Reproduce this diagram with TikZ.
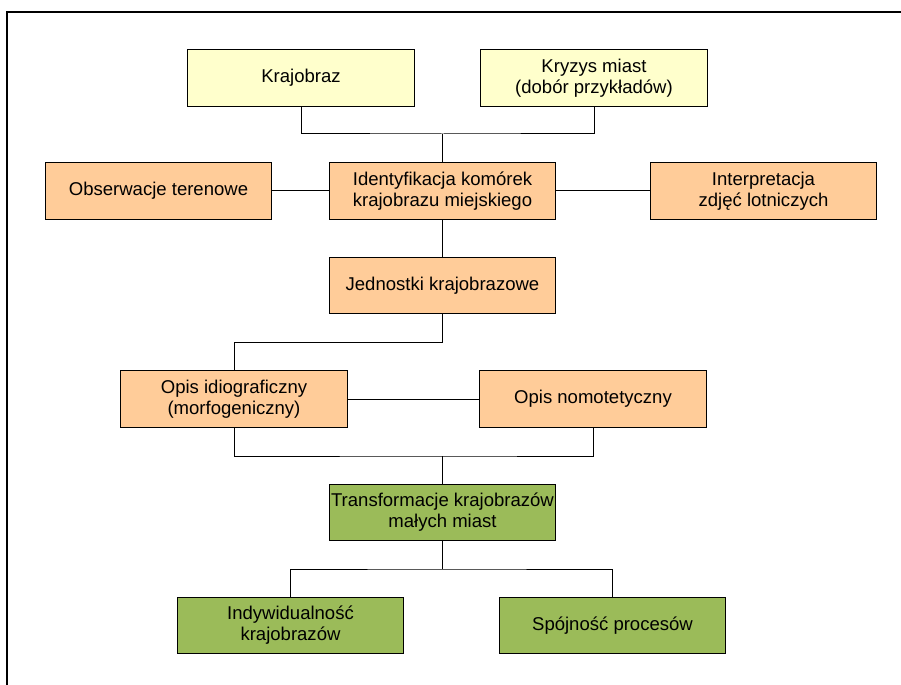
\documentclass[tikz,border=0pt]{standalone}
\usepackage{fontspec}
\setmainfont{Liberation Sans}
\usepackage{tikz}
\usetikzlibrary{positioning}
\definecolor{paleyellow}{HTML}{FFFFCC}
\definecolor{paleorange}{HTML}{FFCC99}
\definecolor{olivegreen}{HTML}{9BBB59}
\tikzset{
	% every box is the same size, only the fill changes
    box/.style={draw=black, line width=0.75pt, minimum width=170pt, minimum height=42.5pt,
        inner sep=0pt, align=center, font=\fontsize{13.9}{15.8}\selectfont},
    yellowbox/.style={box, fill=paleyellow},
    orangebox/.style={box, fill=paleorange},
    greenbox/.style={box, fill=olivegreen},
    link/.style={draw=black, line width=0.75pt},
    frameline/.style={draw=black, line width=1pt}
}
\begin{document}
\begin{tikzpicture}[x=0.75pt,y=-0.75pt]
	\useasboundingbox (0,0) rectangle (901,685);
	\draw[frameline] (7,700) -- (7,12) -- (915,12);
	\node[yellowbox] (kraj) at (301,78) {Krajobraz};
	\node[yellowbox] (kryzys) at (594,78) {Kryzys miast\\(dobór przykładów)};
	\node[orangebox] (obs) at (158.5,191) {Obserwacje terenowe};
	\node[orangebox] (ident) at (442.5,191) {Identyfikacja komórek\\krajobrazu miejskiego};
	\node[orangebox] (interp) at (763.5,191) {Interpretacja\\zdjęć lotniczych};
	\node[orangebox] (jedn) at (442.5,285.5) {Jednostki krajobrazowe};
	\node[orangebox] (idio) at (234,399) {Opis idiograficzny\\(morfogeniczny)};
	\node[orangebox] (nomo) at (593,399) {Opis nomotetyczny};
	\node[greenbox] (trans) at (442.5,512.5) {Transformacje krajobrazów\\małych miast};
	\node[greenbox] (indyw) at (290.5,625.5) {Indywidualność\\krajobrazów};
	\node[greenbox] (spoj) at (612.5,625.5) {Spójność procesów};
	\coordinate (top) at (442.5,134);
	\coordinate (mid) at (442.5,342);
	\coordinate (low) at (442.5,456);
	\coordinate (fork) at (442.5,569);
	\draw[link] (kraj.south) |- (top) -| (kryzys.south);
	\draw[link] (top) -- (ident.north);
	\draw[link] (obs) -- (ident);
	\draw[link] (ident) -- (interp);
	\draw[link] (ident) -- (jedn);
	\draw[link] (jedn.south) -- (mid) -| (idio.north);
	\draw[link] (idio) -- (nomo);
	\draw[link] (idio.south) |- (low) -| (nomo.south);
	\draw[link] (low) -- (trans.north);
	\draw[link] (trans.south) -- (fork);
	\draw[link] (indyw.north) |- (fork) -| (spoj.north);
\end{tikzpicture}
\end{document}
